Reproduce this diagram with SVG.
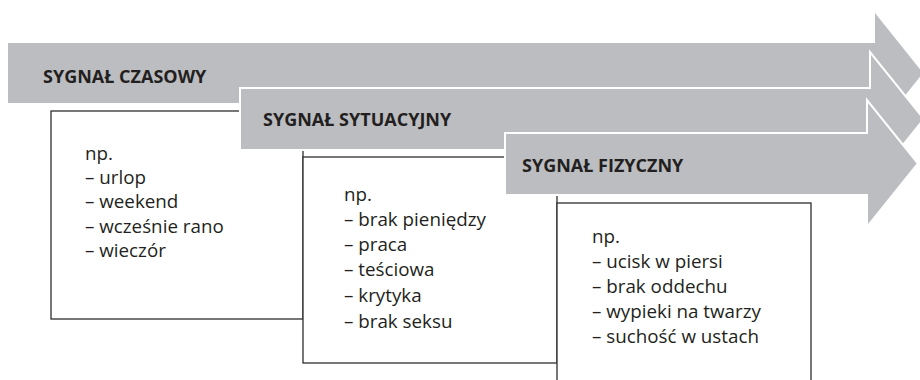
<svg xmlns="http://www.w3.org/2000/svg" width="920" height="380" viewBox="0 0 920 380">
  <style>
    .arrow { fill: #bcbdc0; }
    .arrow2 { fill: #bcbdc0; stroke: #ffffff; stroke-width: 2; }
    .box { fill: #ffffff; stroke: #2e2e2e; stroke-width: 1.3; }
    .head { font-family: "Open Sans", "Noto Sans", sans-serif; font-weight: bold; font-size: 18px; fill: #231f20; }
    .body { font-family: "Open Sans", "Noto Sans", sans-serif; font-size: 18.8px; fill: #231f20; }
  </style>
  <rect width="920" height="380" fill="#ffffff"/>
  <g id="arrow-czasowy">
    <path class="arrow" d="M8,43 H875 V13 L923,73 L875,133 V103 H8 Z"/>
    <text class="head" x="43" y="83">SYGNAŁ CZASOWY</text>
  </g>
  <g id="box-czasowy">
    <rect class="box" x="51" y="111" width="252" height="208"/>
    <text class="body" x="85" y="160">np.</text>
    <text class="body" x="85" y="184">– urlop</text>
    <text class="body" x="85" y="208">– weekend</text>
    <text class="body" x="85" y="233">– wcześnie rano</text>
    <text class="body" x="85" y="257">– wieczór</text>
  </g>
  <g id="arrow-sytuacyjny">
    <path class="arrow2" d="M240,88 H870 V52 L924,119 L870,186 V150 H240 Z"/>
    <text class="head" x="263" y="126">SYGNAŁ SYTUACYJNY</text>
  </g>
  <g id="box-sytuacyjny">
    <rect class="box" x="303" y="157" width="254" height="206"/>
    <text class="body" x="344" y="201">np.</text>
    <text class="body" x="344" y="226">– brak pieniędzy</text>
    <text class="body" x="344" y="251">– praca</text>
    <text class="body" x="344" y="276">– teściowa</text>
    <text class="body" x="344" y="302">– krytyka</text>
    <text class="body" x="344" y="328">– brak seksu</text>
  </g>
  <g id="arrow-fizyczny">
    <path class="arrow2" d="M505,133 H867 V100 L918,163.5 L867,227 V195 H505 Z"/>
    <text class="head" x="522" y="172">SYGNAŁ FIZYCZNY</text>
  </g>
  <g id="box-fizyczny">
    <rect class="box" x="557" y="203" width="254" height="200"/>
    <text class="body" x="592" y="243">np.</text>
    <text class="body" x="592" y="268">– ucisk w piersi</text>
    <text class="body" x="592" y="293">– brak oddechu</text>
    <text class="body" x="592" y="318">– wypieki na twarzy</text>
    <text class="body" x="592" y="343">– suchość w ustach</text>
  </g>
  <g id="connectors"/>
</svg>
